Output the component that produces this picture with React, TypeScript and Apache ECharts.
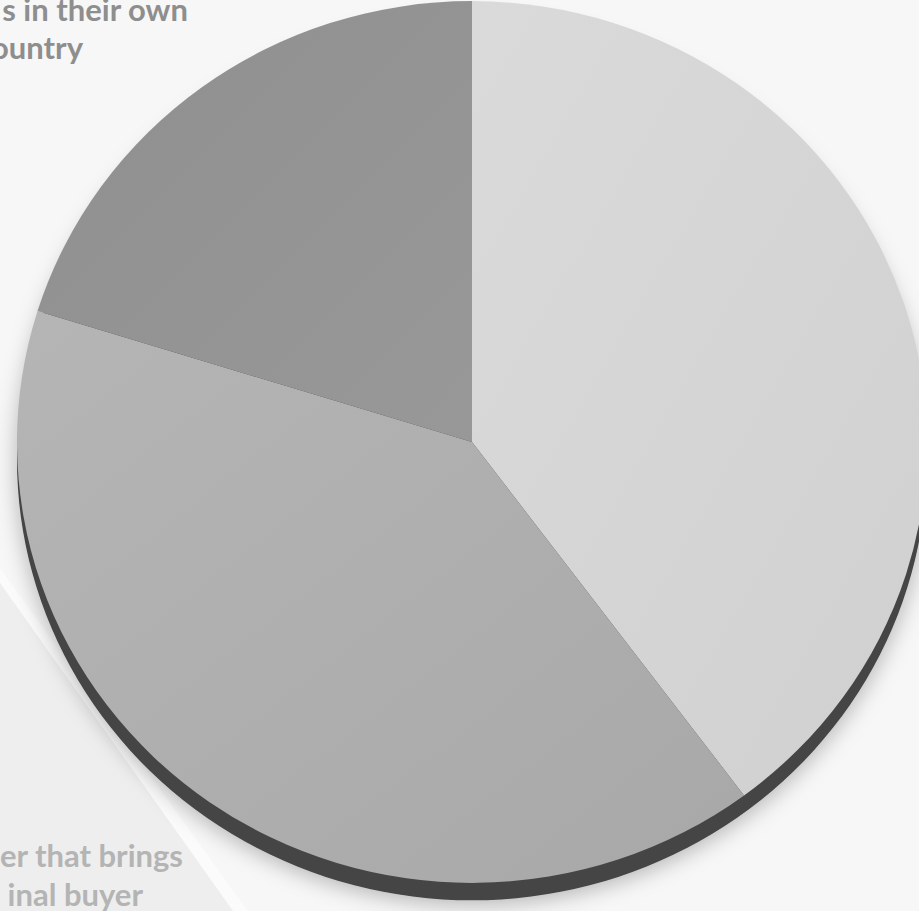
import React, { useEffect, useRef } from "react";
import * as echarts from "echarts";

// Slices, clockwise from 12 o'clock
const categories = ["Sells in their own country", "Intermediary that brings the final buyer", "Other"];
const values = [39.8, 40.0, 20.2];
const sliceColors = [
  ["#dadada", "#d0d0d0"],
  ["#b5b5b5", "#a8a8a8"],
  ["#8f8f8f", "#989898"],
];

// Visible (cropped) label fragments
const topLines = ["s in their own", "ountry"];
const bottomLines = ["er that brings", "inal buyer"];

export default function App() {
  const bgRef = useRef<HTMLDivElement>(null);
  const pieRef = useRef<HTMLDivElement>(null);

  useEffect(() => {
    document.body.style.margin = "0";
    const bg = echarts.init(bgRef.current!, null, { renderer: "svg" });
    const font = "bold 31px Lato";
    bg.setOption({
      animation: false,
      backgroundColor: "#f7f7f7",
      graphic: [
        { type: "polygon", silent: true, shape: { points: [[0, 568], [248, 911], [0, 911]] }, style: { fill: "#fbfbfb" } },
        { type: "polygon", silent: true, shape: { points: [[0, 583], [233, 911], [0, 911]] }, style: { fill: "#eeeeee" } },
        { type: "text", x: 188, y: 9, style: { text: topLines[0], font, fill: "#8e8e8e", align: "right", verticalAlign: "middle" } },
        { type: "text", x: 83, y: 47, style: { text: topLines[1], font, fill: "#8e8e8e", align: "right", verticalAlign: "middle" } },
        { type: "text", x: 183, y: 855, style: { text: bottomLines[0], font, fill: "#b4b4b4", align: "right", verticalAlign: "middle" } },
        { type: "text", x: 143, y: 894, style: { text: bottomLines[1], font, fill: "#b4b4b4", align: "right", verticalAlign: "middle" } },
      ],
    });

    const pie = echarts.init(pieRef.current!, null, { renderer: "svg" });
    const total = values.reduce((a, b) => a + b, 0);
    pie.setOption({
      animation: false,
      series: [
        {
          type: "pie",
          silent: true,
          center: [472, 500],
          radius: 455,
          label: { show: false },
          labelLine: { show: false },
          emphasis: { disabled: true },
          z: 1,
          data: [
            {
              value: total,
              name: "edge",
              itemStyle: {
                color: "#454545",
                shadowBlur: 22,
                shadowColor: "rgba(0,0,0,0.28)",
                shadowOffsetY: 4,
              },
            },
          ],
        },
        {
          type: "pie",
          silent: true,
          center: [472, 482],
          radius: 455,
          startAngle: 90,
          clockwise: true,
          label: { show: false },
          labelLine: { show: false },
          emphasis: { disabled: true },
          z: 2,
          data: values.map((v, i) => ({
            value: v,
            name: categories[i],
            itemStyle: {
              borderWidth: 0,
              color: {
                type: "linear",
                x: 0,
                y: 0,
                x2: 1,
                y2: 1,
                colorStops: [
                  { offset: 0, color: sliceColors[i][0] },
                  { offset: 1, color: sliceColors[i][1] },
                ],
              },
            },
          })),
        },
      ],
    });

    return () => {
      bg.dispose();
      pie.dispose();
    };
  }, []);

  return (
    <div style={{ position: "fixed", left: 0, top: 0, width: 919, height: 911, overflow: "hidden" }}>
      <div ref={bgRef} style={{ position: "absolute", left: 0, top: 0, width: 919, height: 911 }} />
      <div
        ref={pieRef}
        style={{
          position: "absolute",
          left: 0,
          top: -40,
          width: 919,
          height: 991,
          transform: "scaleY(0.969)",
          transformOrigin: "472px 482px",
        }}
      />
    </div>
  );
}
